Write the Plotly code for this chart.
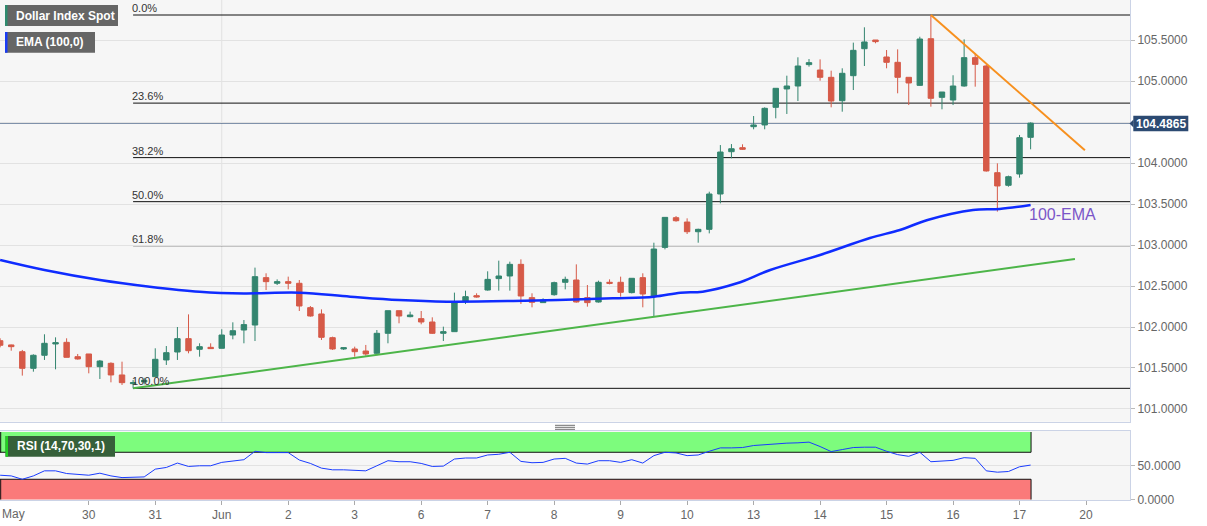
import plotly.graph_objects as go

# ---------------- data (4-hour candles, index = bar number) ----------------
tick_pos = [8, 14, 20, 26, 32, 38, 44, 50, 56, 62, 68, 74, 80, 86, 92, 98]
tick_text = ["30", "31", "Jun", "2", "3", "6", "7", "8", "9", "10", "13", "14", "15", "16", "17", "20"]
first_label = "May"

opens = [101.833, 101.781, 101.699, 101.496, 101.655, 101.793, 101.813, 101.638, 101.671, 101.516,
         101.557, 101.415, 101.309, 101.330, 101.394, 101.598, 101.695, 101.858, 101.728, 101.752,
         101.740, 101.902, 101.963, 102.024, 102.602, 102.533, 102.553, 102.533, 102.236, 102.159,
         101.870, 101.732, 101.732, 101.707, 101.679, 101.923, 102.199, 102.126, 102.102, 102.061,
         101.923, 101.943, 102.317, 102.382, 102.451, 102.590, 102.622, 102.764, 102.358, 102.297,
         102.394, 102.545, 102.573, 102.358, 102.305, 102.545, 102.545, 102.419, 102.602, 102.370,
         102.971, 103.333, 103.280, 103.162, 103.191, 103.622, 104.138, 104.187, 104.443, 104.464,
         104.679, 104.903, 104.939, 105.200, 105.134, 105.045, 104.760, 105.065, 105.394, 105.500,
         105.293, 105.228, 105.045, 104.947, 105.516, 104.801, 104.768, 104.939, 105.285, 105.183,
         103.882, 103.728, 103.866, 104.313]
highs = [101.862, 101.785, 101.720, 101.667, 101.911, 101.874, 101.862, 101.671, 101.671, 101.598,
         101.569, 101.577, 101.354, 101.380, 101.740, 101.768, 102.000, 102.154, 101.801, 101.801,
         101.972, 102.057, 102.085, 102.724, 102.655, 102.581, 102.614, 102.573, 102.256, 102.215,
         101.882, 101.752, 101.760, 101.781, 101.963, 102.199, 102.199, 102.187, 102.195, 102.118,
         102.004, 102.419, 102.443, 102.411, 102.679, 102.809, 102.797, 102.825, 102.411, 102.350,
         102.553, 102.614, 102.764, 102.512, 102.565, 102.581, 102.614, 102.594, 102.655, 103.028,
         103.337, 103.353, 103.325, 103.199, 103.650, 104.219, 104.231, 104.228, 104.573, 104.679,
         104.911, 105.065, 105.289, 105.268, 105.264, 105.126, 105.155, 105.468, 105.655, 105.500,
         105.378, 105.386, 105.045, 105.540, 105.805, 104.866, 105.070, 105.508, 105.338, 105.200,
         103.996, 103.846, 104.342, 104.496]
lows = [101.752, 101.711, 101.407, 101.455, 101.598, 101.484, 101.630, 101.602, 101.435, 101.366,
        101.325, 101.293, 101.252, 101.300, 101.394, 101.537, 101.598, 101.679, 101.638, 101.736,
        101.740, 101.850, 101.801, 101.829, 102.451, 102.512, 102.459, 102.195, 102.126, 101.842,
        101.720, 101.720, 101.638, 101.650, 101.655, 101.801, 102.045, 102.118, 102.033, 101.915,
        101.829, 101.943, 102.280, 102.358, 102.443, 102.443, 102.443, 102.281, 102.240, 102.297,
        102.382, 102.459, 102.297, 102.248, 102.297, 102.520, 102.370, 102.410, 102.240, 102.126,
        102.947, 103.284, 103.134, 103.028, 103.142, 103.508, 104.057, 104.159, 104.411, 104.411,
        104.545, 104.598, 104.756, 105.175, 105.004, 104.679, 104.626, 104.890, 105.183, 105.460,
        105.155, 104.850, 104.707, 104.940, 104.687, 104.655, 104.707, 104.931, 104.931, 103.895,
        103.407, 103.711, 103.821, 104.167]
closes = [101.777, 101.760, 101.496, 101.655, 101.801, 101.809, 101.630, 101.610, 101.516, 101.585,
          101.415, 101.321, 101.321, 101.350, 101.606, 101.687, 101.858, 101.711, 101.760, 101.736,
          101.902, 101.955, 102.029, 102.614, 102.553, 102.553, 102.533, 102.256, 102.134, 101.874,
          101.732, 101.748, 101.699, 101.671, 101.923, 102.199, 102.134, 102.146, 102.061, 101.923,
          101.943, 102.297, 102.370, 102.366, 102.581, 102.622, 102.764, 102.378, 102.301, 102.329,
          102.541, 102.581, 102.305, 102.297, 102.545, 102.533, 102.423, 102.594, 102.402, 102.951,
          103.337, 103.296, 103.162, 103.191, 103.622, 104.134, 104.174, 104.167, 104.464, 104.667,
          104.911, 104.939, 105.183, 105.224, 105.045, 104.756, 105.094, 105.374, 105.476, 105.480,
          105.228, 105.045, 104.976, 105.512, 104.789, 104.866, 104.939, 105.285, 105.203, 103.903,
          103.720, 103.833, 104.309, 104.4865]

ema_x = [0, 4, 9, 13.5, 18, 22, 27, 31.6, 36, 40.3, 46.3, 55.3, 59, 61.4, 63.4, 66.5, 69.5, 74,
         78.5, 81.2, 83.7, 87.8, 90.2, 93]
ema_y = [102.817, 102.695, 102.573, 102.492, 102.431, 102.410, 102.419, 102.370, 102.329, 102.309,
         102.317, 102.350, 102.370, 102.419, 102.431, 102.533, 102.695, 102.878, 103.085, 103.183,
         103.305, 103.427, 103.439, 103.488]

rsi = [36, 35, 30, 35, 42.5, 42.5, 38.5, 37.5, 36, 39, 35, 32.5, 33.5, 33.5, 45, 47.5, 54, 49, 50, 50,
       55, 57, 59, 71.5, 69.5, 69.5, 69.5, 58.5, 53.5, 46.5, 44, 44, 43.5, 42.5, 50, 57.5, 56, 56, 53.5, 49,
       49.5, 60, 61.5, 61.5, 66, 67, 70, 56.5, 54.5, 55, 60, 61, 54, 52.5, 57.5, 57.5, 55, 59, 54, 65,
       70, 69, 65, 66, 71.5, 76.5, 76.5, 77, 80, 81.5, 83, 83.5, 84, 85, 78.5, 71, 74, 77, 77.5, 77.5,
       71.5, 66.5, 64, 70, 56, 56.5, 58, 62, 61, 42.5, 40.5, 41.5, 48.5, 51]

fib_names = ["0.0%", "23.6%", "38.2%", "50.0%", "61.8%", "100.0%"]
fib_ratios = [0.0, 0.236, 0.382, 0.5, 0.618, 1.0]
swing_high = 105.805
swing_low = 101.252
fib_start = 12

support_pts = ([12, 97.0], [101.252, 102.829])
resist_pts = ([84, 97.9], [105.805, 104.156])

last_price = 104.4865
price_ticks = [101.0, 101.5, 102.0, 102.5, 103.0, 103.5, 104.0, 104.5, 105.0, 105.5]
price_ticks_shown = [101.0, 101.5, 102.0, 102.5, 103.0, 103.5, 104.0, 105.0, 105.5]
rsi_ticks = [0, 50]

# ---------------- styling ----------------
GREEN = "#33856f"
RED = "#d65a48"
FONT = "Liberation Sans, Arial, sans-serif"
XMIN, XMAX = -0.0126, 101.97
PW, PH = 1130.0, 500.0
MAIN_BOTTOM = 1 - 421.7 / PH
RSI_TOP = 1 - 431.0 / PH


def px(x):
    return x / PW


def py(y):
    return 1 - y / PH


idx = list(range(len(opens)))
fig = go.Figure()

fig.add_trace(go.Candlestick(
    x=idx, open=opens, high=highs, low=lows, close=closes, xaxis="x2", yaxis="y",
    increasing=dict(line=dict(color=GREEN, width=1), fillcolor=GREEN),
    decreasing=dict(line=dict(color=RED, width=1), fillcolor=RED),
    whiskerwidth=0, showlegend=False, hoverinfo="skip"))

fig.add_trace(go.Scatter(x=ema_x, y=ema_y, mode="lines", xaxis="x2", yaxis="y",
                         line=dict(color="#0f2cff", width=2.5, shape="spline"),
                         showlegend=False, hoverinfo="skip"))

fig.add_trace(go.Scatter(x=support_pts[0], y=support_pts[1], mode="lines", xaxis="x2", yaxis="y",
                         line=dict(color="#4db549", width=2), showlegend=False, hoverinfo="skip"))
fig.add_trace(go.Scatter(x=resist_pts[0], y=resist_pts[1], mode="lines", xaxis="x2", yaxis="y",
                         line=dict(color="#f7901e", width=2), showlegend=False, hoverinfo="skip"))

fig.add_trace(go.Scatter(x=idx, y=rsi, mode="lines", xaxis="x", yaxis="y2",
                         line=dict(color="#1a3cff", width=1), showlegend=False, hoverinfo="skip"))

shapes = []
annotations = []

# Jun vertical grid line
shapes.append(dict(type="line", xref="x2", yref="paper", x0=20, x1=20, y0=MAIN_BOTTOM, y1=1,
                   line=dict(color="#e1e1e1", width=1), layer="below"))

# fib levels
for name, r in zip(fib_names, fib_ratios):
    lvl = swing_high - (swing_high - swing_low) * r
    shapes.append(dict(type="line", xref="x2", yref="y", x0=fib_start, x1=XMAX, y0=lvl, y1=lvl,
                       line=dict(color="#111111", width=1), layer="below"))
    annotations.append(dict(xref="x2", yref="y", x=fib_start, y=lvl, text=name, showarrow=False,
                            xanchor="left", yanchor="middle", yshift=7, xshift=-3,
                            font=dict(size=11, color="#333333", family=FONT)))

# last price line
shapes.append(dict(type="line", xref="x2", yref="y", x0=XMIN, x1=XMAX, y0=last_price, y1=last_price,
                   line=dict(color="#34507a", width=1), layer="below"))

# RSI bands
band_end = 93.04
shapes.append(dict(type="rect", xref="x", yref="y2", x0=XMIN, x1=band_end, y0=70, y1=100,
                   fillcolor="#7dfc7d", line=dict(width=0), layer="below"))
shapes.append(dict(type="rect", xref="x", yref="y2", x0=XMIN, x1=band_end, y0=0, y1=30,
                   fillcolor="#fa7a7a", line=dict(width=0), layer="below"))
for yv in (70, 30):
    shapes.append(dict(type="line", xref="x", yref="y2", x0=XMIN, x1=band_end, y0=yv, y1=yv,
                       line=dict(color="#111111", width=1), layer="below"))
for (a, b) in ((70, 100), (0, 30)):
    shapes.append(dict(type="line", xref="x", yref="y2", x0=band_end, x1=band_end, y0=a, y1=b,
                       line=dict(color="#111111", width=1), layer="below"))
    shapes.append(dict(type="line", xref="x", yref="y2", x0=0.05, x1=0.05, y0=a, y1=b,
                       line=dict(color="#111111", width=1), layer="below"))


# legend boxes
def legend_box(x0, y0, x1, y1, fill, strip, text):
    shapes.append(dict(type="rect", xref="paper", yref="paper", x0=px(x0), x1=px(x1), y0=py(y1), y1=py(y0),
                       fillcolor=fill, line=dict(width=0), layer="above"))
    shapes.append(dict(type="rect", xref="paper", yref="paper", x0=px(x0), x1=px(x0 + 2.5), y0=py(y1),
                       y1=py(y0), fillcolor=strip, line=dict(width=0), layer="above"))
    annotations.append(dict(xref="paper", yref="paper", x=px(x0 + 9), y=py((y0 + y1) / 2), text="<b>%s</b>" % text,
                            showarrow=False, xanchor="left", yanchor="middle",
                            font=dict(size=12, color="white", family=FONT)))


legend_box(5, 5, 118, 26, "#666666", "#2e8b6e", "Dollar Index Spot")
legend_box(5, 32, 95, 52.7, "#666666", "#1a3cf5", "EMA (100,0)")
legend_box(5.5, 436, 115, 456.7, "#36603a", "#22d022", "RSI (14,70,30,1)")

# first (clipped) date label
annotations.append(dict(xref="paper", yref="paper", x=0, y=py(513.5), text=first_label, showarrow=False,
                        xanchor="left", yanchor="middle", font=dict(size=12, color="#666666", family=FONT)))

# 100-EMA label
annotations.append(dict(xref="x2", yref="y", x=95.9, y=103.378, text="100-EMA", showarrow=False,
                        xanchor="center", yanchor="middle", font=dict(size=16, color="#7a55c8", family=FONT)))

# last price tag on axis
shapes.append(dict(type="rect", xref="paper", yref="paper", x0=px(1133.3), x1=px(1188.3), y0=py(131.2),
                    y1=py(115.7), fillcolor="#2c4a72", line=dict(width=0)))
shapes.append(dict(type="path", xref="paper", yref="paper",
                   path="M %f %f L %f %f L %f %f Z" % (px(1129.5), py(123.4), px(1133.5), py(119.4),
                                                     px(1133.5), py(127.4)),
                   fillcolor="#2c4a72", line=dict(width=0)))
annotations.append(dict(xref="paper", yref="paper", x=px(1161), y=py(123.6), text="<b>%.4f</b>" % last_price,
                        showarrow=False, xanchor="center", yanchor="middle",
                        font=dict(size=12, color="white", family=FONT)))

# panel divider handle
for yy in (425.3, 427.3, 429.3):
    shapes.append(dict(type="line", xref="paper", yref="paper", x0=px(555), x1=px(575), y0=py(yy), y1=py(yy),
                       line=dict(color="#707070", width=1)))

FRAME = "#cbd3e6"
fig.update_layout(
    width=1207, height=526, margin=dict(l=0, r=77, t=0, b=26),
    paper_bgcolor="white", plot_bgcolor="#f6f6f6", showlegend=False, hovermode=False,
    font=dict(family=FONT),
    xaxis=dict(domain=[0, 1], anchor="y2", range=[XMIN, XMAX], tickmode="array", tickvals=tick_pos,
               ticktext=tick_text, ticks="outside", ticklen=4, tickcolor="#aaaaaa", showgrid=False,
               zeroline=False, showline=True, linecolor=FRAME, mirror=True,
               tickfont=dict(size=12, color="#666666", family=FONT), rangeslider=dict(visible=False)),
    xaxis2=dict(domain=[0, 1], anchor="y", matches="x", showticklabels=False, showgrid=False, zeroline=False,
                showline=True, linecolor=FRAME, mirror=True, rangeslider=dict(visible=False)),
    yaxis=dict(domain=[MAIN_BOTTOM, 1], anchor="x2", side="right", range=[100.845, 105.988], tickmode="array",
               tickvals=price_ticks, ticktext=["%.4f" % v if v in price_ticks_shown else "" for v in price_ticks],
               ticks="outside", ticklen=4, tickcolor="#bbbbbb", showgrid=True, gridcolor="#e2e2e2",
               zeroline=False, showline=True, linecolor=FRAME, mirror=True,
               tickfont=dict(size=12, color="#666666", family=FONT)),
    yaxis2=dict(domain=[0, RSI_TOP], anchor="x", side="right", range=[-0.7, 101.5], tickmode="array",
                tickvals=rsi_ticks, ticktext=["%.4f" % v for v in rsi_ticks], ticks="outside", ticklen=4,
                tickcolor="#bbbbbb", showgrid=True, gridcolor="#e2e2e2", zeroline=False, showline=True,
                linecolor=FRAME, mirror=True, tickfont=dict(size=12, color="#666666", family=FONT)),
    shapes=shapes, annotations=annotations,
)

fig.write_html("out.html")
